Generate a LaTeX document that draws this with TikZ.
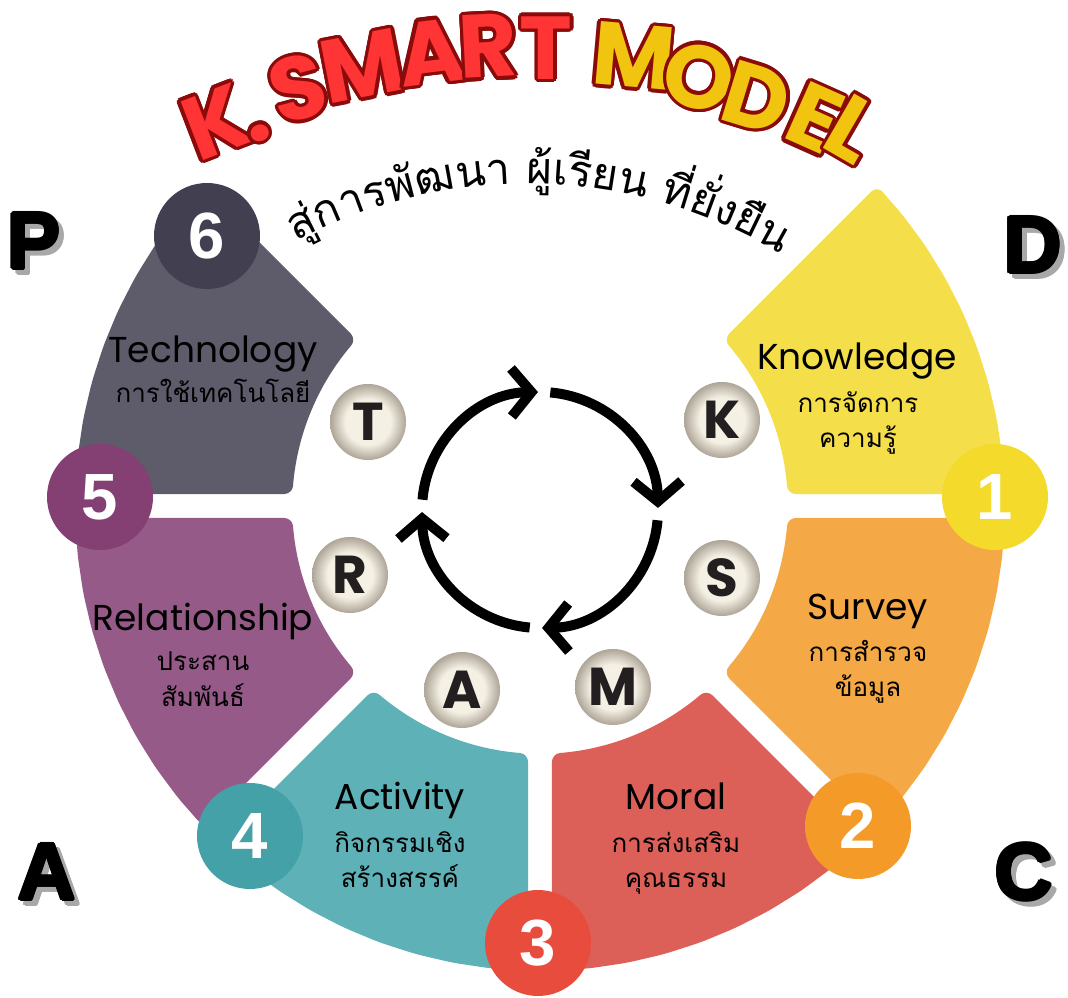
\documentclass[tikz,border=0pt]{standalone}
\usepackage{fontspec}
\usetikzlibrary{arrows.meta}
\newfontfamily\thaifont[Script=Thai]{Loma}
\newfontfamily\popfont{Poppins}
\newfontfamily\libfont{Liberation Sans}

\definecolor{segY}{HTML}{F4DE4A}
\definecolor{segO}{HTML}{F5A846}
\definecolor{segR}{HTML}{DC5F58}
\definecolor{segT}{HTML}{5EB1B7}
\definecolor{segP}{HTML}{955A87}
\definecolor{segG}{HTML}{5E5B6B}
\definecolor{numY}{HTML}{F3DA2B}
\definecolor{numO}{HTML}{F39A29}
\definecolor{numR}{HTML}{E74C3C}
\definecolor{numT}{HTML}{45A1A8}
\definecolor{numP}{HTML}{843F73}
\definecolor{numG}{HTML}{423F51}
\definecolor{ballc}{HTML}{F4F0E3}
\definecolor{ballr}{HTML}{ADA597}
\definecolor{tout}{HTML}{8B0A0A}
\definecolor{tred}{HTML}{FF3434}
\definecolor{tyel}{HTML}{F1C40F}
\definecolor{shadowgray}{HTML}{A8A8A8}
\definecolor{ink}{HTML}{231F20}

\pgfdeclareradialshading{ballshade}{\pgfpoint{0bp}{0bp}}{color(0bp)=(ballc); color(15bp)=(ballc); color(25bp)=(ballr); color(50bp)=(ballr)}

\newlength\thmeasure
\newcommand\subfont{\thaifont\fontsize{33pt}{36pt}\selectfont}
\newcommand\thsp{\space}
\newcommand\sublist{สู่,ก,า,ร,พั,ฒ,น,า,\thsp,ผู้,เ,รี,ย,น,\thsp,ที่,ยั่,ง,ยื,น}

\tikzset{
  lab/.style={font=\popfont\fontsize{27pt}{30pt}\selectfont, text=black, inner sep=0pt, anchor=base},
  thl/.style={font=\thaifont\fontsize{19.5pt}{24pt}\selectfont, text=black, inner sep=0pt, anchor=base},
  numc/.style={circle, minimum size=79.5pt, inner sep=0pt, text=white, font=\libfont\bfseries\fontsize{49pt}{50pt}\selectfont},
  ballnode/.style={circle, minimum size=57pt, inner sep=0pt, shading=ballshade, text=ink, font=\popfont\bfseries\fontsize{40pt}{42pt}\selectfont},
  cyclearrow/.style={line width=7.5pt, -{Straight Barb[length=15pt,width=36pt]}},
  titlef/.style={inner sep=0pt, font=\popfont\bfseries\fontsize{67pt}{70pt}\selectfont},
  cornf/.style={inner sep=0pt, font=\libfont\bfseries\fontsize{60pt}{62pt}\selectfont},
  subt/.style={inner sep=0pt, anchor=base, font=\subfont, text=black},
}

% annular segment between angles #1 and #2
\newcommand\seg[3]{%
  \fill[#3, rounded corners=6pt]
    ({#1+1.48}:465) \foreach \i in {1,...,9}{ -- ({#1+1.48+\i*(#2-#1-2.96)/9}:465) }
    -- ({#2-2.77}:248) \foreach \i in {1,...,9}{ -- ({#2-2.77-\i*(#2-#1-5.54)/9}:248) } -- cycle;
}

% outlined title letter: x, y, rotation, fill colour, letter
\newcommand\tlet[5]{%
  \foreach \a in {0,22.5,...,337.5}{%
    \node[titlef, text=tout, rotate=#3] at ([shift={(\a:3.5)}]#1,#2) {#5};}%
  \node[titlef, text=#4, rotate=#3] at (#1,#2) {#5};%
}

% corner letter with shadow: name, x, y, letter
\newcommand\cornerletter[4]{%
  \foreach \a in {0,45,...,315}{%
    \node[cornf, text=shadowgray] at ([shift={(\a:1.6)}]#2+5,#3-5) {#4};}%
  \foreach \a in {0,45,...,315}{%
    \node[cornf, text=black] at ([shift={(\a:1.6)}]#2,#3) {#4};}%
  \node[cornf, text=black] (#1) at (#2,#3) {#4};%
}

\begin{document}%
% measure the curved subtitle before the picture
\settowidth{\thmeasure}{\subfont สู่การพัฒนา ผู้เรียน ที่ยั่งยืน}%
\pgfmathsetmacro\startang{88.5+(\thmeasure/0.75)/2/496*57.2958}%
\xdef\curang{\startang}%
\foreach \c [count=\i] in \sublist {%
  \settowidth{\thmeasure}{\subfont\c}%
  \pgfmathsetmacro\ha{(\thmeasure/0.75)/2/496*57.2958}%
  \pgfmathsetmacro\ca{\curang-\ha}%
  \expandafter\xdef\csname subang\i\endcsname{\ca}%
  \pgfmathsetmacro\na{\curang-2*\ha}%
  \xdef\curang{\na}%
}%
\begin{tikzpicture}[x=0.75pt,y=0.75pt]
\useasboundingbox (0,0) rectangle (1068,997);
\fill[white] (0,0) rectangle (1068,997);

% ring segments
\begin{scope}[shift={(540,491)}]
  \seg{0}{45}{segY}
  \seg{-45}{0}{segO}
  \seg{-90}{-45}{segR}
  \seg{-135}{-90}{segT}
  \seg{180}{225}{segP}
  \seg{135}{180}{segG}
\end{scope}

% number circles
\node[numc, fill=numY] (n1) at (995,500) {1};
\node[numc, fill=numO] (n2) at (858,171) {2};
\node[numc, fill=numR] (n3) at (538,54) {3};
\node[numc, fill=numT] (n4) at (250,161) {4};
\node[numc, fill=numP] (n5) at (100,500) {5};
\node[numc, fill=numG] (n6) at (207,761) {6};

% letter balls
\node[ballnode] (bK) at (722,577) {K};
\node[ballnode] (bS) at (722,419) {S};
\node[ballnode] (bM) at (613,310) {M};
\node[ballnode] (bA) at (462,307) {A};
\node[ballnode] (bR) at (350,422) {R};
\node[ballnode] (bT) at (368,575) {T};

% cycle arrows
\begin{scope}[shift={(540,487)}]
  \draw[cyclearrow] (175:118) arc[start angle=175, end angle=91, radius=118];
  \draw[cyclearrow] (85:118) arc[start angle=85, end angle=1, radius=118];
  \draw[cyclearrow] (-5:118) arc[start angle=-5, end angle=-89, radius=118];
  \draw[cyclearrow] (-95:118) arc[start angle=-95, end angle=-179, radius=118];
\end{scope}

% segment labels
\node[lab] (tK) at (857,627) {Knowledge};
\node[thl] (tK1) at (858,584) {การจัดการ};
\node[thl] (tK2) at (858,549) {ความรู้};
\node[lab] (tS) at (868,377) {Survey};
\node[thl] (tS1) at (868,335) {การสำรวจ};
\node[thl] (tS2) at (868,300) {ข้อมูล};
\node[lab] (tM) at (676,187) {Moral};
\node[thl] (tM1) at (676,145) {การส่งเสริม};
\node[thl] (tM2) at (676,110) {คุณธรรม};
\node[lab] (tA) at (400,187) {Activity};
\node[thl] (tA1) at (400,145) {กิจกรรมเชิง};
\node[thl] (tA2) at (400,110) {สร้างสรรค์};
\node[lab] (tR) at (203,366) {Relationship};
\node[thl] (tR1) at (203,326) {ประสาน};
\node[thl] (tR2) at (203,290) {สัมพันธ์};
\node[lab] (tT) at (213,634) {Technology};
\node[thl] (tT1) at (213,594) {การใช้เทคโนโลยี};

% corner letters
\cornerletter{cP}{34}{756}{P}
\cornerletter{cD}{1033}{752}{D}
\cornerletter{cA}{47}{125}{A}
\cornerletter{cC}{1024}{125}{C}

% title
\tlet{216}{875}{21}{tred}{K}
\tlet{260}{864}{18}{tred}{.}
\tlet{298}{909}{15}{tred}{S}
\tlet{362}{931}{11}{tred}{M}
\tlet{431}{945}{7}{tred}{A}
\tlet{488}{951}{3}{tred}{R}
\tlet{546}{949}{0}{tred}{T}
\tlet{634}{941}{-5}{tyel}{M}
\tlet{699}{920}{-11}{tyel}{O}
\tlet{757}{899}{-17}{tyel}{D}
\tlet{815}{879}{-24}{tyel}{E}
\tlet{853}{868}{-30}{tyel}{L}

% curved subtitle
\foreach \c [count=\i] in \sublist {
  \edef\ca{\csname subang\i\endcsname}
  \node[subt, rotate=\ca-90] (sub\i) at ([shift={(527,317)}]\ca:496) {\c};
}
\end{tikzpicture}%
\end{document}
